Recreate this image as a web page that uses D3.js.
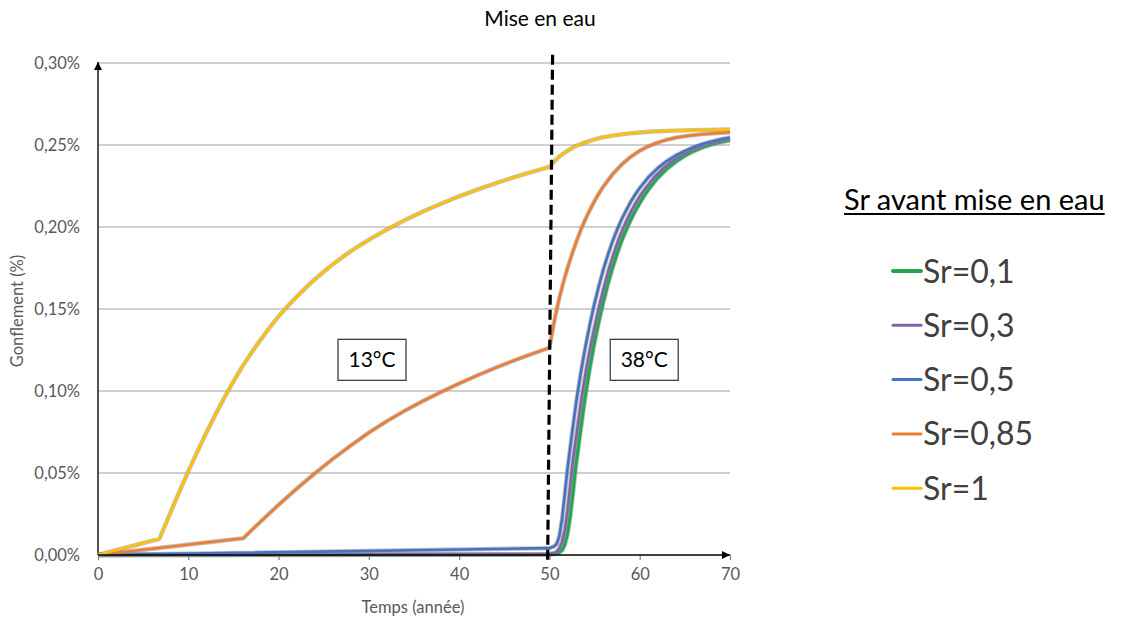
<!DOCTYPE html>
<html>
<head>
<meta charset="utf-8">
<script src="https://cdn.jsdelivr.net/npm/d3@7"></script>
<style>
  html, body { margin: 0; padding: 0; background: #fff; }
  svg { display: block; }
  text { font-family: Lato, "Open Sans", "Liberation Sans", sans-serif; }
</style>
</head>
<body>
<svg id="chart" width="1123" height="618"></svg>
<script>
// ---------- data ----------
const chartTitle = "Mise en eau";
const xTitle = "Temps (année)";
const yTitle = "Gonflement (%)";
const legendTitle = "Sr avant mise en eau";
const seriesNames = ["Sr=0,1", "Sr=0,3", "Sr=0,5", "Sr=0,85", "Sr=1"];
const seriesColors = ["#1FA84F", "#7F64A8", "#4472C4", "#ED7D31", "#FFC000"];
const xTicks = [0, 10, 20, 30, 40, 50, 60, 70];
const yTicks = [0, 0.05, 0.10, 0.15, 0.20, 0.25, 0.30];

// [year, swelling %]
const sr01 = [[0,0],[50,0.0003],[51,0.0012],[51.4,0.003],[51.7,0.0065],[52,0.013],[52.3,0.024],[52.6,0.038],[52.9,0.0535],[53.4,0.0745],[53.9,0.0945],[54.4,0.112],[54.9,0.1275],[55.4,0.1408],[55.9,0.153],[56.4,0.164],[56.9,0.1738],[57.4,0.1824],[57.9,0.1903],[58.4,0.1971],[58.9,0.2033],[59.4,0.2088],[59.9,0.2137],[60.4,0.2183],[60.9,0.2225],[61.9,0.2295],[62.9,0.235],[63.9,0.2395],[64.9,0.2432],[65.9,0.2461],[66.9,0.2485],[67.9,0.2503],[68.9,0.2517],[70,0.253]];
const sr03 = [[0,0],[50,0.0005],[50.7,0.0015],[51.1,0.004],[51.4,0.008],[51.7,0.015],[52,0.027],[52.3,0.042],[52.6,0.0575],[53.1,0.0775],[53.6,0.097],[54.1,0.114],[54.6,0.1285],[55.1,0.1415],[55.6,0.1536],[56.1,0.1645],[56.6,0.1746],[57.1,0.1834],[57.6,0.1914],[58.1,0.1983],[58.6,0.2045],[59.1,0.21],[59.6,0.215],[60.1,0.2194],[60.6,0.2233],[61.6,0.2302],[62.6,0.2357],[63.6,0.2402],[64.6,0.2438],[65.6,0.2467],[66.6,0.249],[67.6,0.2508],[68.6,0.2522],[70,0.2538]];
const sr05 = [[0,0],[50,0.0042],[50.5,0.0052],[50.8,0.0068],[51.1,0.0115],[51.4,0.022],[51.7,0.037],[52,0.0525],[52.5,0.074],[53,0.0945],[53.5,0.112],[54,0.1275],[54.5,0.1411],[55,0.1536],[55.5,0.1645],[56,0.1746],[56.5,0.1834],[57,0.1914],[57.5,0.1984],[58,0.2047],[58.5,0.2102],[59,0.2153],[59.5,0.2198],[60,0.2238],[61,0.2306],[62,0.2359],[63,0.2402],[64,0.2436],[65,0.2464],[66,0.2488],[67,0.2507],[68,0.2522],[69,0.2535],[70,0.2546]];
const sr085 = [[0,0],[16.1,0.0102],[18,0.0203],[20,0.0306],[22,0.0404],[24,0.0497],[26,0.0585],[28,0.0668],[30,0.0746],[32,0.0816],[34,0.088],[36,0.0939],[38,0.0994],[40,0.1046],[42,0.1095],[44,0.1141],[46,0.1184],[48,0.1225],[50,0.1264],[50.25,0.134],[50.5,0.1414],[50.75,0.1482],[51,0.1544],[51.5,0.1654],[52,0.1749],[52.5,0.1835],[53,0.1914],[53.5,0.1985],[54,0.2049],[54.5,0.2106],[55,0.2159],[55.5,0.2206],[56,0.2249],[57,0.2322],[58,0.2381],[59,0.2428],[60,0.2465],[61,0.2493],[62,0.2515],[63,0.2532],[64,0.2545],[65.5,0.2557],[67,0.2566],[70,0.2578]];
const sr1 = [[0,0],[6.8,0.0099],[8,0.0255],[9,0.0385],[10,0.051],[11,0.063],[12,0.0745],[13,0.0855],[14,0.096],[15,0.1058],[16,0.115],[17,0.1234],[18,0.1312],[19,0.1386],[20,0.1455],[21,0.1517],[22,0.1575],[23,0.1629],[24,0.168],[25,0.1727],[26,0.1772],[27,0.1813],[28,0.1852],[29,0.1888],[30,0.1922],[32,0.1985],[34,0.2042],[36,0.2094],[38,0.2142],[40,0.2187],[42,0.2228],[44,0.2266],[46,0.2302],[48,0.2335],[50,0.2366],[50.3,0.2385],[50.6,0.2403],[51,0.2425],[51.5,0.2446],[52,0.2465],[52.5,0.2481],[53,0.2495],[53.7,0.2511],[54.5,0.2525],[55.2,0.2537],[56,0.2548],[57,0.2557],[58,0.2565],[59,0.2571],[60,0.2576],[61.5,0.2582],[63,0.2586],[66,0.2591],[70,0.2595]];
const seriesData = [sr01, sr03, sr05, sr085, sr1];

// annotations (data coordinates)
const annoLabels = ["13°C", "38°C"];
const annoX = [30.35, 60.5];
const annoY = [0.119, 0.119];
const dashX = [50.35, 49.8];
const dashY = [0.305, -0.005];

// ---------- drawing ----------
const svg = d3.select("#chart");
svg.append("rect").attr("width", 1123).attr("height", 618).attr("fill", "#fff");

const x = d3.scaleLinear().domain([0, 70]).range([98, 730]);
const y = d3.scaleLinear().domain([0, 0.30]).range([555, 63]);

const defs = svg.append("defs");
defs.append("marker").attr("id", "arrow")
  .attr("viewBox", "0 0 10 10").attr("refX", 10).attr("refY", 5)
  .attr("markerWidth", 8).attr("markerHeight", 8).attr("markerUnits", "userSpaceOnUse")
  .attr("orient", "auto")
  .append("path").attr("d", "M0,0 L10,5 L0,10 Z").attr("fill", "#000");

// gridlines
svg.append("g").selectAll("line").data(yTicks.filter(d => d > 0)).join("line")
  .attr("x1", x(0)).attr("x2", x(70))
  .attr("y1", d => y(d)).attr("y2", d => y(d))
  .attr("stroke", "#BFBFBF").attr("stroke-width", 1.3);

// y axis labels
const yAxis = d3.axisLeft(y).tickValues(yTicks).tickSize(0).tickPadding(18)
  .tickFormat(d => d3.format(".2f")(d).replace(".", ",") + "%");
const gy = svg.append("g").attr("transform", `translate(${x(0)},0)`).call(yAxis);
gy.select(".domain").remove();
gy.selectAll("text").attr("fill", "#595959").style("font-size", "16.5px").style("font-family", "Lato, sans-serif");

// x axis
const xAxis = d3.axisBottom(x).tickValues(xTicks).tickSize(5).tickPadding(8).tickFormat(d3.format("d"));
const gx = svg.append("g").attr("transform", `translate(0,${y(0)})`).call(xAxis);
gx.select(".domain").remove();
gx.selectAll(".tick line").attr("stroke", "#7F7F7F").attr("stroke-width", 1.2);
gx.selectAll("text").attr("fill", "#595959").style("font-size", "16.5px").style("font-family", "Lato, sans-serif");

// y axis line with arrow
svg.append("line").attr("x1", x(0)).attr("x2", x(0)).attr("y1", y(0)).attr("y2", y(0.30) - 1)
  .attr("stroke", "#404040").attr("stroke-width", 1.8).attr("marker-end", "url(#arrow)");

// series
const line = d3.line().x(d => x(d[0])).y(d => y(d[1])).curve(d3.curveLinear);
const gs = svg.append("g");
seriesData.forEach((data, i) => {
  const w = i === 0 ? 3.2 : 2.6;
  gs.append("path").attr("d", line(data)).attr("fill", "none")
    .attr("stroke", "#8C8C8C").attr("stroke-opacity", 0.55).attr("stroke-width", w + 1.8)
    .attr("stroke-linejoin", "round");
  gs.append("path").attr("d", line(data)).attr("fill", "none")
    .attr("stroke", seriesColors[i]).attr("stroke-width", w)
    .attr("stroke-linejoin", "round");
});

// x axis line drawn over series
svg.append("line").attr("x1", x(0)).attr("x2", x(70)).attr("y1", y(0)).attr("y2", y(0))
  .attr("stroke", "#000").attr("stroke-width", 1.5).attr("marker-end", "url(#arrow)");

// dashed line
svg.append("line")
  .attr("x1", x(dashX[0])).attr("y1", y(dashY[0]))
  .attr("x2", x(dashX[1])).attr("y2", y(dashY[1]))
  .attr("stroke", "#000").attr("stroke-width", 3.2).attr("stroke-dasharray", "10,5");

// annotation boxes
annoLabels.forEach((t, i) => {
  const cx = x(annoX[i]), cy = y(annoY[i]);
  svg.append("rect").attr("x", cx - 34).attr("y", cy - 20.5).attr("width", 68).attr("height", 41)
    .attr("fill", "#fff").attr("stroke", "#404040").attr("stroke-width", 1.3);
  svg.append("text").attr("x", cx).attr("y", cy).attr("dy", "0.36em")
    .attr("text-anchor", "middle").attr("fill", "#000").style("font-size", "21px").text(t);
});

// titles
svg.append("text").attr("x", 540).attr("y", 26).attr("text-anchor", "middle")
  .attr("fill", "#000").style("font-size", "21px").text(chartTitle);
svg.append("text").attr("x", 413).attr("y", 613).attr("text-anchor", "middle")
  .attr("fill", "#595959").style("font-size", "16.5px").text(xTitle);
svg.append("text").attr("transform", "translate(23,311) rotate(-90)").attr("text-anchor", "middle")
  .attr("fill", "#595959").style("font-size", "16.5px").text(yTitle);

// legend
const lt = svg.append("text").attr("x", 844).attr("y", 210).attr("fill", "#000")
  .style("font-size", "29px").text(legendTitle);
const ltw = lt.node().getComputedTextLength();
svg.append("line").attr("x1", 844).attr("x2", 844 + ltw).attr("y1", 214).attr("y2", 214)
  .attr("stroke", "#000").attr("stroke-width", 1.8);

const lg = svg.append("g");
seriesNames.forEach((n, i) => {
  const cy = 271 + i * 54.3;
  lg.append("line").attr("x1", 893).attr("x2", 921).attr("y1", cy).attr("y2", cy)
    .attr("stroke", seriesColors[i]).attr("stroke-width", i === 0 ? 4 : 3).attr("stroke-linecap", "round");
  lg.append("text").attr("x", 923).attr("y", cy).attr("dy", "0.36em")
    .attr("fill", "#404040").style("font-size", "32px").text(n);
});
</script>
</body>
</html>
